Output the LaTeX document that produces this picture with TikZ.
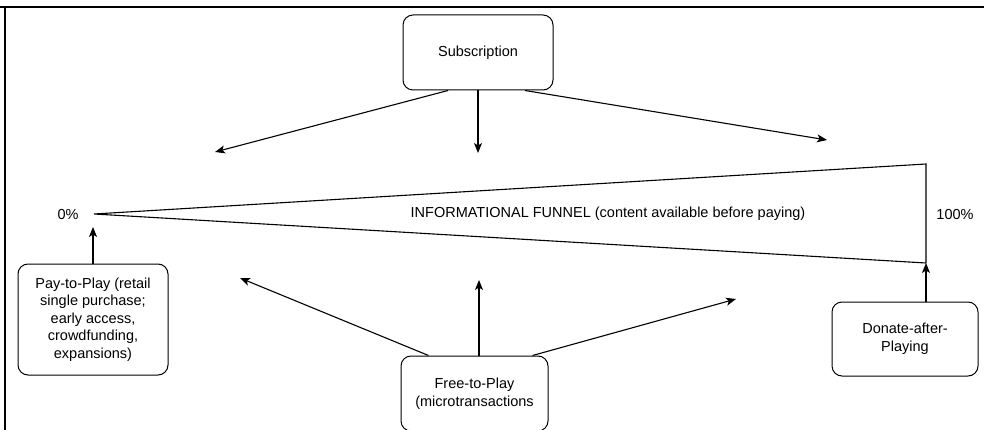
\documentclass[tikz,border=0pt]{standalone}
\usepackage{fontspec}
\setmainfont{Liberation Sans}
\usetikzlibrary{arrows.meta}
\tikzset{
  box/.style={draw, line width=1pt, rounded corners=10pt, align=center, inner sep=0pt},
  conn/.style={line width=1.1pt},
  arr/.style={conn, -{Stealth[length=10pt,width=8pt,inset=2.5pt]}},
  lbl/.style={inner sep=0pt}
}
\begin{document}
\begin{tikzpicture}[x=1pt,y=-1pt,font=\fontsize{14.5}{17.5}\selectfont]
\useasboundingbox (0,0) rectangle (984,430);
\clip (0,0) rectangle (984,430);
% frame
\draw[line width=2pt] (-5,7) -- (990,7);
\draw[line width=1.6pt] (5,7) -- (5,440);
% boxes
\node[box, minimum width=150, minimum height=75] (sub) at (478,52.5) {Subscription};
\node[box, minimum width=150, minimum height=111] (pay) at (93,319.5) {Pay-to-Play (retail\\single purchase;\\early access,\\crowdfunding,\\expansions)};
\node[box, minimum width=147, minimum height=75] (free) at (474.5,393.5) {Free-to-Play\\(microtransactions};
\node[box, minimum width=146, minimum height=74] (don) at (905,339) {Donate-after-\\Playing};
% labels
\node[lbl] (zero) at (68,215) {0\%};
\node[lbl] (hundred) at (955,215) {100\%};
\node[lbl] (funnel) at (608,214) {INFORMATIONAL FUNNEL (content available before paying)};
% funnel coordinates
\coordinate (tip) at (94,214);
\coordinate (topR) at (926,164);
\coordinate (botR) at (926,263);
\draw[conn, line join=miter] (botR) -- (tip) -- (topR) -- (botR);
% arrow ends
\coordinate (s1) at (215,152);
\coordinate (s2) at (478,153);
\coordinate (s3) at (827,140);
\coordinate (p1) at (93,227);
\coordinate (f1) at (240,278);
\coordinate (f2) at (479,280);
\coordinate (f3) at (736,299);
% arrows
\draw[arr] ([xshift=-30]sub.south) -- (s1);
\draw[arr] (sub.south) -- (s2);
\draw[arr] ([xshift=47]sub.south) -- (s3);
\draw[arr] (pay.north) -- (p1);
\draw[arr] ([xshift=21]don.north) -- (botR);
\draw[arr] ([xshift=-46]free.north) -- (f1);
\draw[arr] ([xshift=4.5]free.north) -- (f2);
\draw[arr] ([xshift=58]free.north) -- (f3);
\end{tikzpicture}
\end{document}
